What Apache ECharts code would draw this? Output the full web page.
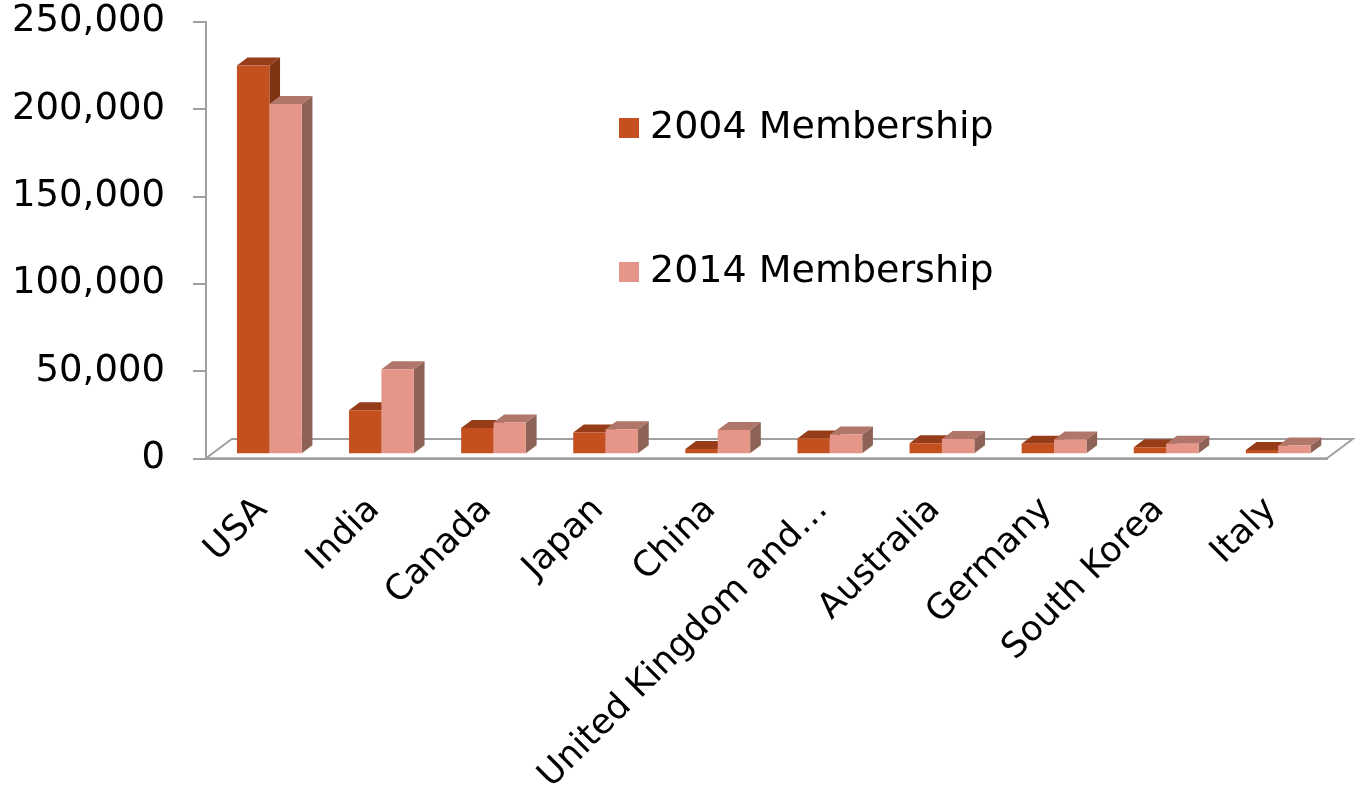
<!DOCTYPE html>
<html>
<head>
<meta charset="utf-8">
<title>Membership by country</title>
<script src="https://cdn.jsdelivr.net/npm/echarts@6/dist/echarts.min.js"></script>
<style>
html, body { margin: 0; padding: 0; background: #ffffff; }
#chart { width: 1365px; height: 791px; }
</style>
</head>
<body>
<div id="chart"></div>
<script>
// data
var categories = ['USA', 'India', 'Canada', 'Japan', 'China', 'United Kingdom and…', 'Australia', 'Germany', 'South Korea', 'Italy'];
var members2004 = [222000, 24600, 14500, 11900, 2500, 8500, 5700, 5500, 3400, 1900];
var members2014 = [200000, 48100, 17600, 13700, 13300, 10800, 8200, 7900, 5500, 4400];
var seriesNames = ['2004 Membership', '2014 Membership'];
var valueTicks = [0, 50000, 100000, 150000, 200000, 250000];

// colours: front, top, side
var faces = [
  { front: '#C45020', top: '#963C18', side: '#803414' },
  { front: '#E69688', top: '#B0766A', side: '#8F6258' }
];

var FONT = '"DejaVu Sans", Verdana, sans-serif';
var AXIS_GREY = '#A0A0A0';
var FLOOR_DX = 25.7, FLOOR_DY = -19.3; // floor depth
var BAR_DX = 10.7, BAR_DY = -8;        // bar depth
var SHIFT_Y = -5;                      // bars stand a bit behind the front edge

function renderFloor (params, api) {
  var cs = params.coordSys
  var x0 = cs.x, x1 = cs.x + cs.width, y = cs.y + cs.height
  return {
    type: 'polygon',
    shape: { points: [[x0, y], [x1, y], [x1 + FLOOR_DX, y + FLOOR_DY], [x0 + FLOOR_DX, y + FLOOR_DY]] },
    style: { fill: '#ffffff', stroke: AXIS_GREY, lineWidth: 2 },
    silent: true
  }
}

function makeBarRenderer (idx) {
  var c = faces[idx]
  return function (params, api) {
    var cat = api.value(0)
    var base = api.coord([cat, 0])
    var top = api.coord([cat, api.value(1)])
    var band = api.size([1, 0])[0]
    var w = band * 0.289
    var mid = base[0] + band * 0.065
    var x0 = idx === 0 ? mid - w : mid
    var by = base[1] + SHIFT_Y
    var ty = top[1] + SHIFT_Y
    return {
      type: 'group',
      children: [
        {
          type: 'polygon',
          shape: { points: [[x0 + w, ty], [x0 + w + BAR_DX, ty + BAR_DY], [x0 + w + BAR_DX, by + BAR_DY], [x0 + w, by]] },
          style: { fill: c.side }
        },
        {
          type: 'polygon',
          shape: { points: [[x0, ty], [x0 + w, ty], [x0 + w + BAR_DX, ty + BAR_DY], [x0 + BAR_DX, ty + BAR_DY]] },
          style: { fill: c.top }
        },
        {
          type: 'rect',
          shape: { x: x0, y: ty, width: w, height: by - ty },
          style: { fill: c.front }
        }
      ]
    }
  }
}

var chart = echarts.init(document.getElementById('chart'), null, { renderer: 'canvas' })

var option = {
  animation: false,
  backgroundColor: '#ffffff',
  legend: {
    orient: 'vertical',
    left: 614,
    top: 100,
    itemWidth: 20,
    itemHeight: 20,
    itemGap: 98,
    icon: 'rect',
    data: seriesNames,
    textStyle: { fontFamily: FONT, fontSize: 38, color: '#000000', lineHeight: 46, padding: [0, 0, 0, 6] }
  },
  grid: { left: 206, right: 38, top: 21.7, bottom: 332.7, containLabel: false, outerBoundsMode: 'none' },
  xAxis: {
    type: 'category',
    data: categories,
    axisLine: { lineStyle: { color: AXIS_GREY, width: 2 } },
    axisTick: { length: 11, lineStyle: { color: AXIS_GREY, width: 2 } },
    axisLabel: { rotate: 45, interval: 0, margin: 46, fontFamily: FONT, fontSize: 35, color: '#000000' },
    splitLine: { show: false },
    z: 5
  },
  yAxis: {
    type: 'value',
    min: valueTicks[0],
    max: valueTicks[valueTicks.length - 1],
    interval: valueTicks[1] - valueTicks[0],
    axisLine: { show: true, lineStyle: { color: AXIS_GREY, width: 2 } },
    axisTick: { show: true, length: 13, lineStyle: { color: AXIS_GREY, width: 2 } },
    axisLabel: {
      margin: 41,
      padding: [5, 0, 0, 0],
      fontFamily: FONT,
      fontSize: 37,
      color: '#000000',
      formatter: function (v) { return v.toLocaleString('en-US') }
    },
    splitLine: { show: false }
  },
  series: [
    {
      name: 'floor',
      type: 'custom',
      renderItem: renderFloor,
      data: [[0, 0]],
      silent: true,
      z: 1
    },
    {
      name: seriesNames[0],
      type: 'custom',
      renderItem: makeBarRenderer(0),
      itemStyle: { color: faces[0].front },
      encode: { x: 0, y: 1 },
      data: categories.map(function (c, i) { return [i, members2004[i]] }),
      z: 2
    },
    {
      name: seriesNames[1],
      type: 'custom',
      renderItem: makeBarRenderer(1),
      itemStyle: { color: faces[1].front },
      encode: { x: 0, y: 1 },
      data: categories.map(function (c, i) { return [i, members2014[i]] }),
      z: 3
    }
  ]
}

chart.setOption(option)
</script>
</body>
</html>
